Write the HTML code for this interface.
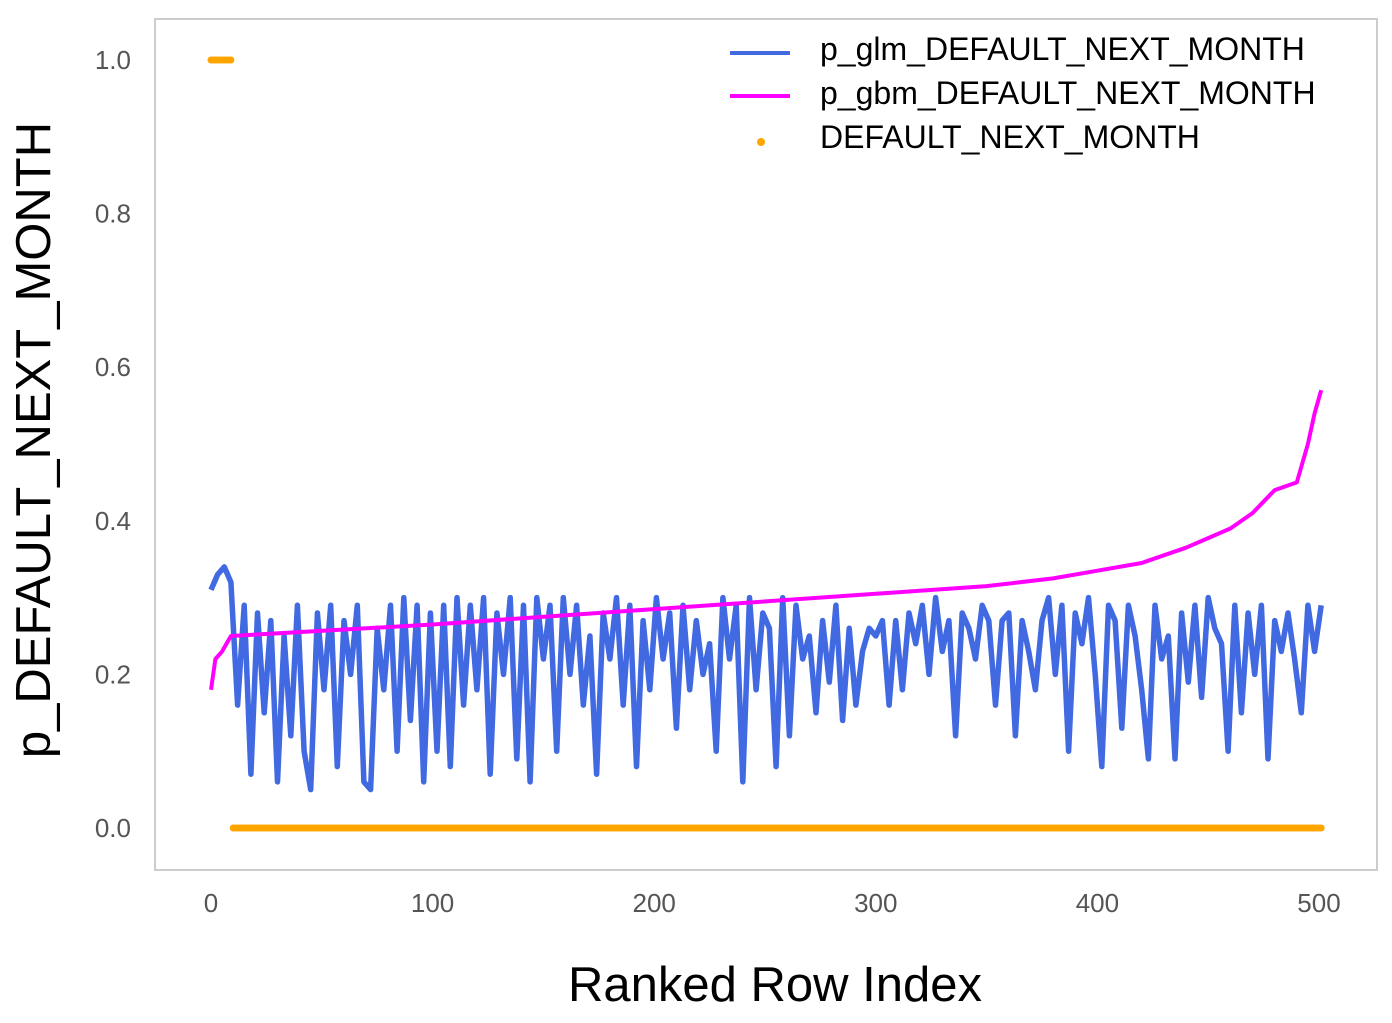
<!DOCTYPE html>
<html><head><meta charset="utf-8"><style>
html,body{margin:0;padding:0;background:#fff;}
svg{display:block;font-family:"Liberation Sans",sans-serif;}
</style></head><body>
<svg id="chart" width="1392" height="1023">
<rect x="155" y="19" width="1222" height="851" fill="#fff" stroke="#cccccc" stroke-width="2"/>
<g id="yticks"></g>
<g id="xticks"></g>
<g id="series"></g>
<text x="50" y="440" transform="rotate(-90 50 440)" text-anchor="middle" font-size="49" fill="#000">p_DEFAULT_NEXT_MONTH</text>
<text x="775" y="1001" text-anchor="middle" font-size="49" fill="#000">Ranked Row Index</text>
<g>
<g><line x1="730" y1="53" x2="790" y2="53" stroke="#4169e1" stroke-width="4"/><text x="820" y="60" font-size="32">p_glm_DEFAULT_NEXT_MONTH</text></g>
<g><line x1="730" y1="96" x2="790" y2="96" stroke="#ff00ff" stroke-width="4"/><text x="820" y="104" font-size="32">p_gbm_DEFAULT_NEXT_MONTH</text></g>
<g><circle cx="761" cy="142" r="4" fill="#ffa500"/><text x="820" y="148" font-size="32">DEFAULT_NEXT_MONTH</text></g>
</g>
</svg>
<script>
const yTicks=[0.0,0.2,0.4,0.6,0.8,1.0];
const xTicks=[0,100,200,300,400,500];
const glmStep=3;
const glmValues=[0.31,0.33,0.34,0.32,
0.16,0.29,0.07,0.28,0.15,0.27,0.06,0.25,0.12,0.29,0.10,0.05,0.28,0.18,0.29,0.08,0.27,0.20,0.29,0.06,
0.05,0.26,0.18,0.29,0.10,0.30,0.14,0.29,0.06,0.28,0.10,0.29,0.08,0.30,0.16,0.29,0.18,0.30,0.07,0.28,
0.20,0.30,0.09,0.29,0.06,0.30,0.22,0.29,0.10,0.30,0.20,0.29,0.16,0.25,0.07,0.28,0.22,0.30,0.16,0.29,
0.08,0.27,0.18,0.30,0.22,0.28,0.13,0.29,0.18,0.27,0.20,0.24,0.10,0.30,0.22,0.29,0.06,0.30,0.18,0.28,
0.26,0.08,0.30,0.12,0.29,0.22,0.25,0.15,0.27,0.19,0.29,0.14,0.26,0.16,0.23,0.26,0.25,0.27,0.16,0.27,
0.18,0.28,0.24,0.29,0.20,0.30,0.23,0.27,0.12,0.28,0.26,0.22,0.29,0.27,0.16,0.27,0.28,0.12,0.27,0.23,
0.18,0.27,0.30,0.20,0.29,0.10,0.28,0.24,0.30,0.20,0.08,0.29,0.27,0.13,0.29,0.25,0.18,0.09,0.29,0.22,
0.25,0.09,0.28,0.19,0.29,0.17,0.30,0.26,0.24,0.10,0.29,0.15,0.28,0.20,0.29,0.09,0.27,0.23,0.28,0.22,
0.15,0.29,0.23,0.29];
const gbmIndex=[0,2,5,9,100,200,300,350,380,400,420,440,460,470,480,490,495,498,501];
const gbmValues=[0.18,0.22,0.23,0.25,0.265,0.285,0.305,0.315,0.325,0.335,0.345,0.365,0.39,0.41,0.44,0.45,0.50,0.54,0.57];
const targetRunValues=[1,0];
const targetRunLengths=[10,492];

const X=v=>211+v*(1319-211)/500;
const Y=v=>828-v*(828-60);
const NS='http://www.w3.org/2000/svg';
function mk(tag,attrs,parent){const e=document.createElementNS(NS,tag);for(const k in attrs)e.setAttribute(k,attrs[k]);parent.appendChild(e);return e;}
const yt=document.getElementById('yticks'),xt=document.getElementById('xticks'),sg=document.getElementById('series');
yTicks.forEach(t=>{const e=mk('text',{x:131,y:Y(t)+9,'text-anchor':'end','font-size':26,fill:'#555'},yt);e.textContent=t.toFixed(1);

});
xTicks.forEach(t=>{const e=mk('text',{x:X(t),y:912,'text-anchor':'middle','font-size':26,fill:'#555'},xt);e.textContent=t;

});
const g=mk('path',{d:glmValues.map((v,i)=>(i?'L':'M')+X(i*glmStep).toFixed(1)+','+Y(v).toFixed(1)).join(''),fill:'none',stroke:'#4169e1','stroke-width':5.5,'stroke-linejoin':'round'},sg);


const m=mk('path',{d:gbmValues.map((v,i)=>(i?'L':'M')+X(gbmIndex[i]).toFixed(1)+','+Y(v).toFixed(1)).join(''),fill:'none',stroke:'#ff00ff','stroke-width':4,'stroke-linejoin':'round'},sg);


const dg=mk('g',{},sg);


let idx=0;
targetRunValues.forEach((val,r)=>{for(let k=0;k<targetRunLengths[r];k++){mk('circle',{cx:X(idx).toFixed(1),cy:Y(val).toFixed(1),r:3.5,fill:'#ffa500'},dg);idx++;}});
</script>
</body></html>
